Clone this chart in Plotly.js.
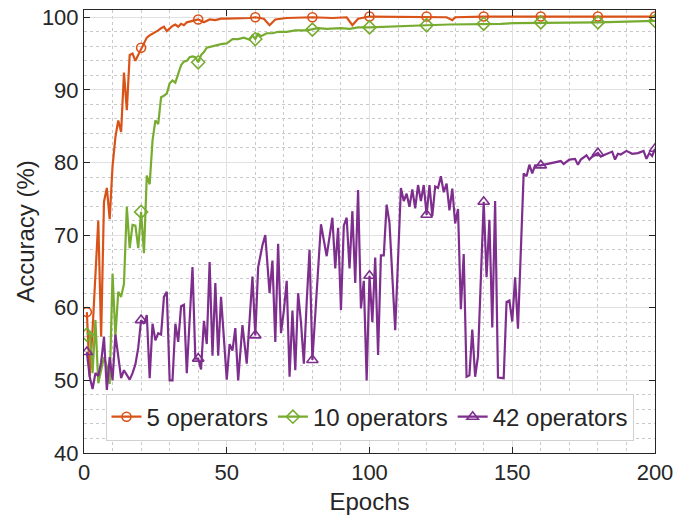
<!DOCTYPE html>
<html>
<head>
<meta charset="utf-8">
<script src="https://cdn.plot.ly/plotly-3.0.1.min.js"></script>
<style>html,body{margin:0;padding:0;background:#fff;}#chart{width:682px;height:516px;}</style>
</head>
<body>
<div id="chart"></div>
<script>
// [epoch, accuracy] pairs
var ops5 = [[1,59.4],[2,50.5],[3,57],[4,64],[5,72],[6,56],[7,74.6],[8,76.5],[9,72.2],[10,79.5],[11,83.5],[12,85.8],[13,84.2],[14,92.4],[15,87.2],[16,94.8],[17,95],[18,94],[19,94.8],[20,95.8],[21,96.6],[22,97.2],[23,97.5],[24,97.7],[25,97.9],[26,98.2],[27,98.5],[28,98.7],[29,98.1],[30,98.5],[31,98.8],[32,99],[33,98.7],[34,99.1],[35,98.9],[36,99.3],[37,99.4],[38,99.5],[40,99.7],[42,99.3],[44,99.7],[46,99.6],[48,99.8],[50,99.8],[55,99.8],[58,99.9],[60,100],[63,99.8],[65,98.9],[67,99.7],[71,99.9],[76,100],[80,100],[87,99.9],[92,100],[94,98.9],[96,99.8],[100,100.1],[110,100.1],[120,100.1],[127,100],[129,99.6],[130,100],[140,100.1],[160,100.1],[180,100.1],[200,100.1]];
var ops10 = [[1,56.3],[2,56.6],[3,51],[4,58.3],[5,49.6],[6,51.2],[7,53.2],[8,51.9],[9,49.5],[10,64.7],[11,56],[12,62.2],[13,61.5],[14,63.3],[15,73.9],[16,68.2],[17,71.4],[18,71.3],[19,68.2],[20,73.2],[21,67.5],[22,78.2],[23,77],[24,83],[25,85.8],[26,85.3],[27,89],[28,89.2],[29,89.5],[30,90.9],[31,91.3],[32,91],[33,92.2],[34,93.4],[35,93.9],[36,94],[37,94.5],[38,94.6],[39,94.5],[40,93.8],[41,94.8],[42,95.2],[43,95.8],[44,95.9],[46,96.2],[48,96.3],[50,96.4],[52,97],[54,97],[56,97.2],[58,96.9],[59,97.5],[60,97],[61,97.7],[62,97.4],[64,97.8],[66,97.8],[68,98],[71,98],[74,98.2],[78,98.2],[80,98.3],[82,98.5],[85,98.4],[90,98.5],[93,98.4],[96,98.6],[100,98.6],[105,98.7],[110,98.8],[115,98.9],[120,98.9],[128,99],[133,99],[140,99.1],[146,99.1],[151,99.2],[156,99.2],[160,99.3],[170,99.3],[180,99.3],[190,99.4],[200,99.5]];
var ops42 = [[1,53.9],[2,50.5],[3,48.8],[4,51],[5,50.6],[6,52.5],[7,56],[8,48.7],[9,53.2],[10,50],[11,56.3],[12,53],[13,50.3],[14,51.4],[15,50.8],[16,50.1],[17,51],[18,52.2],[19,54.5],[20,58.3],[21,57.8],[22,59],[23,50.3],[24,57.8],[25,55.5],[26,56.5],[27,56.3],[28,61.5],[29,62.2],[30,50],[31,50],[32,57.8],[33,55.3],[34,60.2],[35,60.4],[36,51],[38,65.6],[39,53],[40,53],[41,51.5],[42,58.2],[43,55],[44,66.3],[45,53.4],[46,63.4],[47,53.4],[48,61.5],[50,50.1],[51,55],[52,54.1],[53,57.2],[54,50],[55.5,57.6],[57,52.3],[59,64.3],[60,56.2],[61,65.6],[62.5,68.6],[63.5,70],[65,62],[66,66.5],[67,55.3],[68,68.8],[69,56.5],[70,59.6],[71,63.7],[72,50.5],[73,59.6],[74,51.4],[75,62],[76,58],[77,52.3],[78,60.8],[79,68],[80,52.8],[81.5,62],[83,71.5],[85,67.1],[87,72.4],[88,65.4],[89,71],[90,59.7],[91,71.3],[92,72.4],[93,65.4],[94,73.3],[95,63.4],[96,76.2],[97,59.9],[98,63.7],[99,50],[100,64.4],[101,58],[102,66.9],[103,53.5],[104,67.2],[105,67.2],[106,74.2],[107,71.7],[109,56.9],[111,76.5],[112,74.7],[113,75.7],[114,73.9],[115,76.3],[116,73.7],[117,76.9],[118,74.7],[119,76.9],[120,72.8],[121,76.9],[122,72.6],[123,76.7],[124,76.5],[125,78.1],[126,75.9],[127,77.1],[128,73.4],[129,76.4],[130,71.6],[131,73.6],[132,59.8],[133,67.4],[134,50.5],[135,50.7],[136,57],[137,50.5],[138,53.3],[140,74.6],[141,64.2],[142,72.1],[143,57.3],[144,74.7],[145,50.4],[146,50.3],[147,50.3],[148,60.8],[149,61],[150,58.1],[151,64.2],[152,57.1],[154,78.5],[155,78.1],[156,79.7],[157,78.5],[158,79.6],[160,79.6],[162,79.8],[165,80],[167,80.2],[168,79.8],[170,80.4],[172,80.5],[173,79.7],[174,80.4],[176,81],[177,80.4],[178,80.8],[180,81.3],[181,80.8],[182,81],[185,81.5],[186,80.4],[187,81.2],[188,81.1],[190,81.6],[192,81.2],[194,81.3],[196,81.6],[197,80.5],[198,81.3],[199,80.9],[200,81.9]];
var markerEpochs = [1,20,40,60,80,100,120,140,160,180,200];
var seriesNames = ['5 operators','10 operators','42 operators'];
var xTicks = [0,50,100,150,200];
var yTicks = [40,50,60,70,80,90,100];

var colors = ['#D95319','#77AC30','#7E2F8E'];
var symbols = ['circle-open','diamond-open','triangle-up-open'];
var sizes = [9,10,10];
var allData = [ops5, ops10, ops42];

var traces = allData.map(function(d, i){
  var xs = d.map(function(p){return p[0];});
  var ys = d.map(function(p){return p[1];});
  var sel = [];
  xs.forEach(function(x, k){ if (markerEpochs.indexOf(x) >= 0) sel.push(k); });
  return {
    type: 'scatter', mode: 'lines+markers', name: seriesNames[i],
    x: xs, y: ys,
    line: {color: colors[i], width: 2.2},
    marker: {symbol: symbols[i], size: sizes[i], color: colors[i], line: {width: 1.6, color: colors[i]}},
    selectedpoints: sel,
    selected: {marker: {opacity: 1}},
    unselected: {marker: {opacity: 0}},
    hoverinfo: 'skip'
  };
});

var FONT = 'Liberation Sans, Arial, sans-serif';
var axisCommon = {
  showline: true, linecolor: '#262626', linewidth: 1, mirror: 'ticks',
  ticks: 'inside', ticklen: 6, tickwidth: 1, tickcolor: '#262626',
  showgrid: true, gridcolor: '#e1e1e1', gridwidth: 1, zeroline: false,
  tickfont: {family: FONT, size: 22, color: '#262626'}
};

var layout = {
  width: 682, height: 516,
  margin: {l: 84, r: 27, t: 10, b: 63},
  paper_bgcolor: '#ffffff', plot_bgcolor: '#ffffff',
  font: {family: FONT, color: '#262626'},
  showlegend: true,
  xaxis: Object.assign({}, axisCommon, {
    range: [0, 200], tickvals: xTicks, ticktext: xTicks.map(String),
    minor: {dtick: 10, tick0: 0, showgrid: true, gridcolor: '#c9c9c9', griddash: 'dot', gridwidth: 1, ticks: ''},
    title: {text: 'Epochs', font: {family: FONT, size: 24, color: '#262626'}, standoff: 8}
  }),
  yaxis: Object.assign({}, axisCommon, {
    range: [40, 101], tickvals: yTicks, ticktext: yTicks.map(String),
    minor: {dtick: 2, tick0: 40, showgrid: true, gridcolor: '#c9c9c9', griddash: 'dot', gridwidth: 1, ticks: ''},
    title: {text: 'Accuracy (%)', font: {family: FONT, size: 24, color: '#262626'}, standoff: 0}
  }),
  legend: {
    orientation: 'h', x: 0.5, xanchor: 'center', y: 0.028, yanchor: 'bottom',
    bgcolor: '#ffffff', bordercolor: '#d0d0d0', borderwidth: 1,
    font: {size: 24, color: '#262626', family: FONT},
    itemwidth: 30, tracegroupgap: 0
  }
};

Plotly.newPlot('chart', traces, layout, {displayModeBar: false, staticPlot: true});
</script>
</body>
</html>
